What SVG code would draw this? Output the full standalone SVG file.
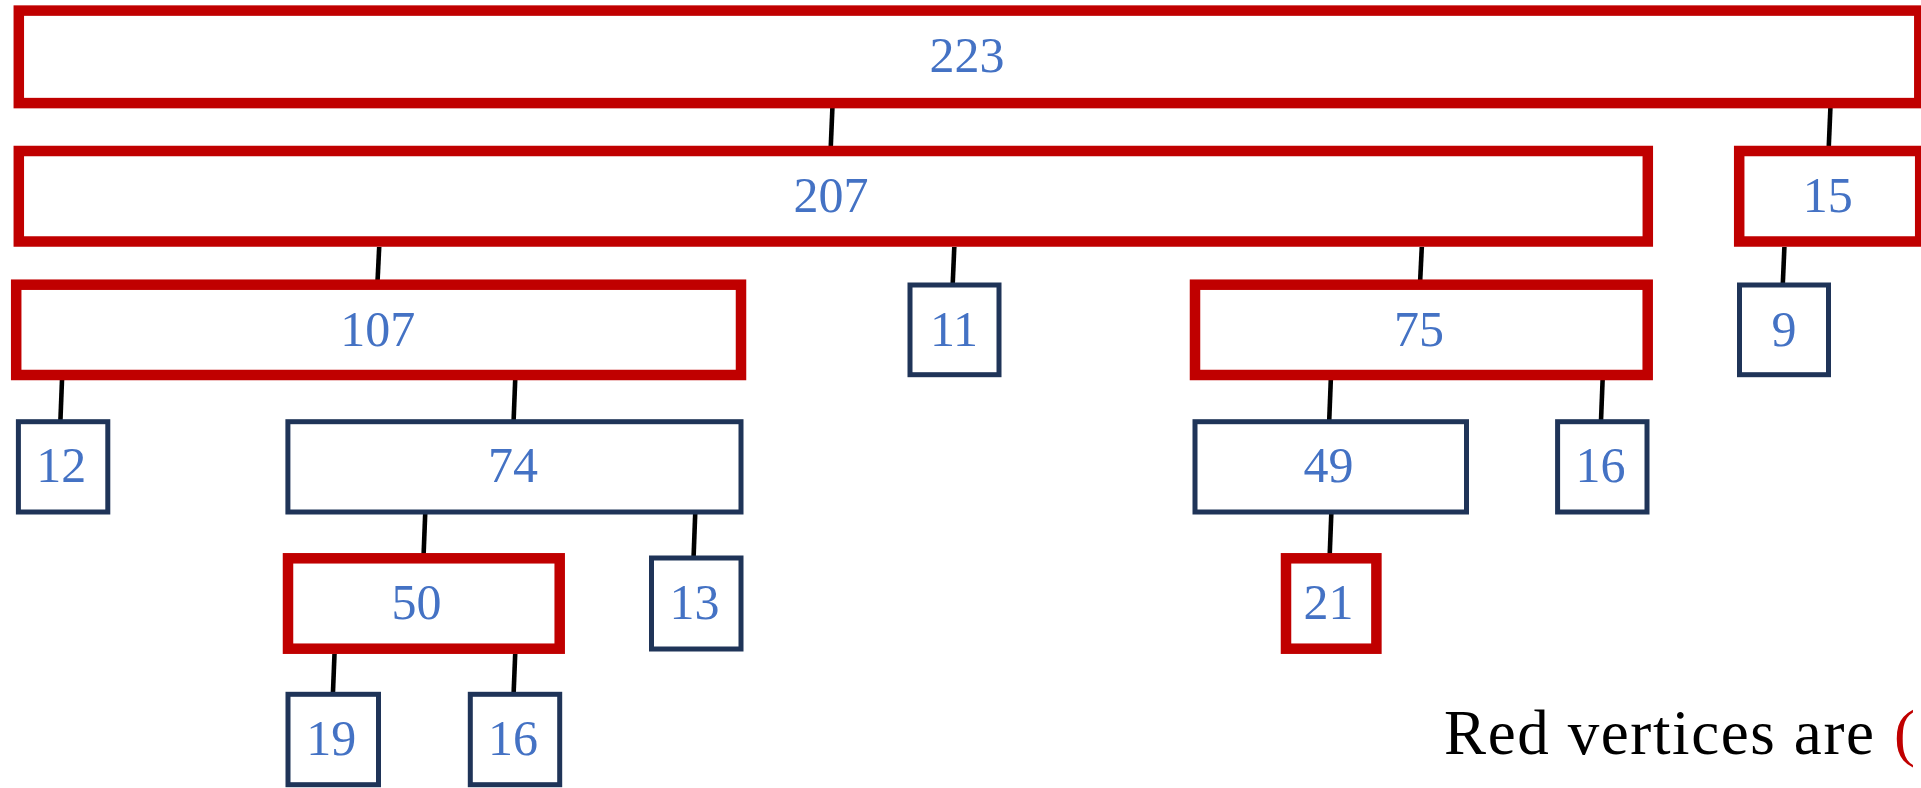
<svg xmlns="http://www.w3.org/2000/svg" width="1921" height="788" viewBox="0 0 1921 788">
  <style>
    .red { fill: #FFFFFF; stroke: #C00000; stroke-width: 10.5; }
    .dark { fill: #FFFFFF; stroke: #1F3458; stroke-width: 5; }
    .val { font-family: "Liberation Serif", "DejaVu Serif", serif; font-size: 50px; fill: #4472C4; text-anchor: middle; }
    .note { font-family: "Liberation Serif", "DejaVu Serif", serif; font-size: 63px; fill: #000000; }
    #edges line { stroke: #000000; stroke-width: 4.6; }
  </style>
  <rect width="1921" height="788" fill="#FFFFFF"/>

  <!-- tree edges -->
  <g id="edges">
    <line x1="832.4" y1="108" x2="830.8" y2="146"/>
    <line x1="1830.4" y1="108" x2="1828.8" y2="146"/>
    <line x1="379.2" y1="247" x2="377.6" y2="280"/>
    <line x1="954.3" y1="247" x2="952.7" y2="284"/>
    <line x1="1421.8" y1="247" x2="1420.2" y2="280"/>
    <line x1="1784.4" y1="247" x2="1782.8" y2="284"/>
    <line x1="62" y1="380" x2="60.4" y2="421"/>
    <line x1="515.2" y1="380" x2="513.6" y2="421"/>
    <line x1="1330.8" y1="380" x2="1329.2" y2="421"/>
    <line x1="1602.6" y1="380" x2="1601" y2="421"/>
    <line x1="425.2" y1="514" x2="423.6" y2="555"/>
    <line x1="695.2" y1="514" x2="693.6" y2="557"/>
    <line x1="1331.3" y1="514" x2="1329.7" y2="555"/>
    <line x1="334.5" y1="654" x2="332.9" y2="694"/>
    <line x1="515.2" y1="654" x2="513.6" y2="694"/>
  </g>

  <!-- level 1 -->
  <g id="n223">
    <rect class="red" x="18.8" y="10.6" width="1900.5" height="92.5"/>
    <text class="val" x="967" y="71.7">223</text>
  </g>

  <!-- level 2 -->
  <g id="n207">
    <rect class="red" x="18.8" y="151" width="1629" height="90.5"/>
    <text class="val" x="831" y="211.7">207</text>
  </g>
  <g id="n15">
    <rect class="red" x="1739.2" y="151" width="181" height="90.5"/>
    <text class="val" x="1827.7" y="211.7">15</text>
  </g>

  <!-- level 3 -->
  <g id="n107">
    <rect class="red" x="16.2" y="284.7" width="724.8" height="90.3"/>
    <text class="val" x="377.8" y="345.7">107</text>
  </g>
  <g id="n11">
    <rect class="dark" x="910" y="285" width="89" height="89.7"/>
    <text class="val" x="954" y="345.7">11</text>
  </g>
  <g id="n75">
    <rect class="red" x="1195" y="284.7" width="452.7" height="90.3"/>
    <text class="val" x="1419" y="345.7">75</text>
  </g>
  <g id="n9">
    <rect class="dark" x="1739.5" y="285" width="89" height="89.7"/>
    <text class="val" x="1784" y="345.7">9</text>
  </g>

  <!-- level 4 -->
  <g id="n12">
    <rect class="dark" x="18.4" y="421.7" width="89.4" height="90.3"/>
    <text class="val" x="61.2" y="481.7">12</text>
  </g>
  <g id="n74">
    <rect class="dark" x="287.9" y="421.7" width="453.1" height="90.3"/>
    <text class="val" x="513" y="481.7">74</text>
  </g>
  <g id="n49">
    <rect class="dark" x="1195" y="421.7" width="271.5" height="90.3"/>
    <text class="val" x="1328.6" y="481.7">49</text>
  </g>
  <g id="n16a">
    <rect class="dark" x="1557.6" y="421.7" width="89.4" height="90.3"/>
    <text class="val" x="1600.5" y="481.7">16</text>
  </g>

  <!-- level 5 -->
  <g id="n50">
    <rect class="red" x="288" y="558.3" width="271.7" height="90.4"/>
    <text class="val" x="416.4" y="619">50</text>
  </g>
  <g id="n13">
    <rect class="dark" x="651.5" y="558" width="89.5" height="91"/>
    <text class="val" x="694.4" y="619">13</text>
  </g>
  <g id="n21">
    <rect class="red" x="1286" y="558.3" width="90.4" height="90.4"/>
    <text class="val" x="1328.6" y="619">21</text>
  </g>

  <!-- level 6 -->
  <g id="n19">
    <rect class="dark" x="288" y="694.3" width="90.5" height="90.4"/>
    <text class="val" x="331.3" y="755.3">19</text>
  </g>
  <g id="n16b">
    <rect class="dark" x="470.3" y="694.3" width="89.4" height="90.4"/>
    <text class="val" x="513" y="755.3">16</text>
  </g>

  <!-- caption -->
  <text class="note" x="1444" y="754"><tspan textLength="430" lengthAdjust="spacing">Red vertices are</tspan><tspan x="1894" fill="#C00000">(</tspan></text>
</svg>
